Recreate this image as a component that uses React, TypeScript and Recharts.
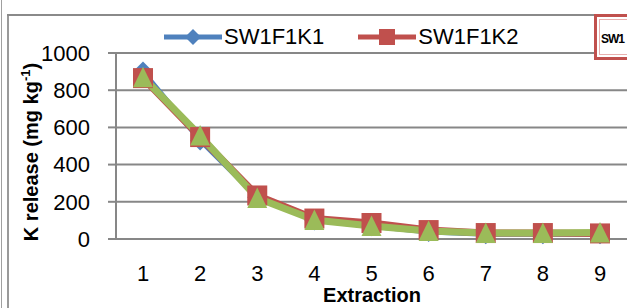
import React from "react";
import { LineChart, Line, XAxis, YAxis, CartesianGrid } from "recharts";

// values
const extractions = ["1", "2", "3", "4", "5", "6", "7", "8", "9"];
const k1 = [900, 530, 225, 100, 68, 38, 26, 25, 25];
const k2 = [865, 548, 234, 110, 86, 48, 32, 32, 30];
const k3 = [870, 556, 220, 102, 70, 43, 32, 32, 35];
const yTicks = [0, 200, 400, 600, 800, 1000];

const data = extractions.map((e, i) => ({ e, k1: k1[i], k2: k2[i], k3: k3[i] }));

const FONT = "'Liberation Sans', Arial, sans-serif";
const BLUE = "#4F81BD";
const RED = "#C0504D";
const GREEN = "#9BBB59";
const GRID = "#878787";

const Diamond = (props: any) => {
  const { cx, cy } = props;
  if (cx == null || cy == null) return null;
  const r = 10;
  return <polygon points={`${cx},${cy - r} ${cx + r},${cy} ${cx},${cy + r} ${cx - r},${cy}`} fill={BLUE} />;
};

const Square = (props: any) => {
  const { cx, cy } = props;
  if (cx == null || cy == null) return null;
  const r = 10;
  return <rect x={cx - r} y={cy - r} width={r * 2} height={r * 2} fill={RED} />;
};

const Triangle = (props: any) => {
  const { cx, cy } = props;
  if (cx == null || cy == null) return null;
  const r = 10;
  return <polygon points={`${cx},${cy - r - 0.5} ${cx + r},${cy + r} ${cx - r},${cy + r}`} fill={GREEN} />;
};

const YLabel = () => (
  <text
    x={0}
    y={0}
    transform="translate(38,152) rotate(-90)"
    textAnchor="middle"
    fontFamily={FONT}
    fontWeight="bold"
    fontSize={20}
    fill="#000"
  >
    K release (mg kg
    <tspan dy={-8} fontSize={13}>-1</tspan>
    <tspan dy={8}>)</tspan>
  </text>
);

const LegendItem = ({ color, marker, label }: { color: string; marker: "d" | "s"; label: string }) => (
  <div style={{ display: "flex", alignItems: "center" }}>
    <svg width={58} height={20}>
      <line x1={0} y1={10} x2={58} y2={10} stroke={color} strokeWidth={5} />
      {marker === "d" ? (
        <polygon points="29,2 37,10 29,18 21,10" fill={color} />
      ) : (
        <rect x={21} y={2} width={16} height={16} fill={color} />
      )}
    </svg>
    <span style={{ fontFamily: FONT, fontSize: 22, marginLeft: 2 }}>{label}</span>
  </div>
);

export default function App() {
  return (
    <div
      style={{
        position: "fixed",
        left: 0,
        top: 0,
        width: 627,
        height: 308,
        overflow: "hidden",
        background: "#fff",
      }}
    >
      {/* outer frame lines */}
      <div style={{ position: "absolute", left: 1, top: 0, width: 1, height: 308, background: "#a0a0a0" }} />
      <div style={{ position: "absolute", left: 7, top: 14, width: 2, height: 294, background: "#9a9a9a" }} />
      <div style={{ position: "absolute", left: 7, top: 14, width: 620, height: 2, background: "#8a8a8a" }} />

      <div style={{ position: "absolute", left: 0, top: 0 }}>
        <LineChart width={627} height={308} data={data} margin={{ top: 53, right: 0, left: 0, bottom: 39 }}>
          <CartesianGrid vertical={false} stroke={GRID} strokeWidth={2} />
          <XAxis
            dataKey="e"
            height={30}
            padding={{ left: 27, right: 27 }}
            axisLine={{ stroke: GRID, strokeWidth: 2 }}
            tickLine={false}
            tickSize={0}
            tickMargin={26}
            tick={{ fill: "#000", fontSize: 22, fontFamily: FONT }}
          />
          <YAxis
            width={116}
            domain={[0, 1000]}
            ticks={yTicks}
            interval={0}
            axisLine={{ stroke: GRID, strokeWidth: 2 }}
            tickLine={{ stroke: GRID, strokeWidth: 2 }}
            tickSize={8}
            tickMargin={18}
            tick={{ fill: "#000", fontSize: 22, fontFamily: FONT }}
          />
          <Line dataKey="k1" stroke={BLUE} strokeWidth={5} dot={<Diamond />} isAnimationActive={false} />
          <Line dataKey="k2" stroke={RED} strokeWidth={7} dot={<Square />} isAnimationActive={false} />
          <Line dataKey="k3" stroke={GREEN} strokeWidth={7} dot={<Triangle />} isAnimationActive={false} />
          <YLabel />
        </LineChart>
      </div>

      {/* legend */}
      <div style={{ position: "absolute", left: 164, top: 24, display: "flex", gap: 34 }}>
        <LegendItem color={BLUE} marker="d" label="SW1F1K1" />
        <LegendItem color={RED} marker="s" label="SW1F1K2" />
      </div>
      <div
        style={{
          position: "absolute",
          left: 594,
          top: 14,
          width: 60,
          height: 46,
          boxSizing: "border-box",
          border: `3px solid ${RED}`,
          background: "#fff",
        }}
      >
        <div
          style={{
            position: "absolute",
            inset: 2,
            border: "1px solid #e8b0ae",
            fontFamily: FONT,
            fontSize: 12,
            fontWeight: "bold",
            letterSpacing: -1,
            paddingLeft: 1,
            paddingTop: 12,
          }}
        >
          SW1
        </div>
      </div>

      <div
        style={{
          position: "absolute",
          left: 0,
          width: 744,
          top: 284,
          textAlign: "center",
          fontFamily: FONT,
          fontWeight: "bold",
          fontSize: 20,
        }}
      >
        Extraction
      </div>
    </div>
  );
}
